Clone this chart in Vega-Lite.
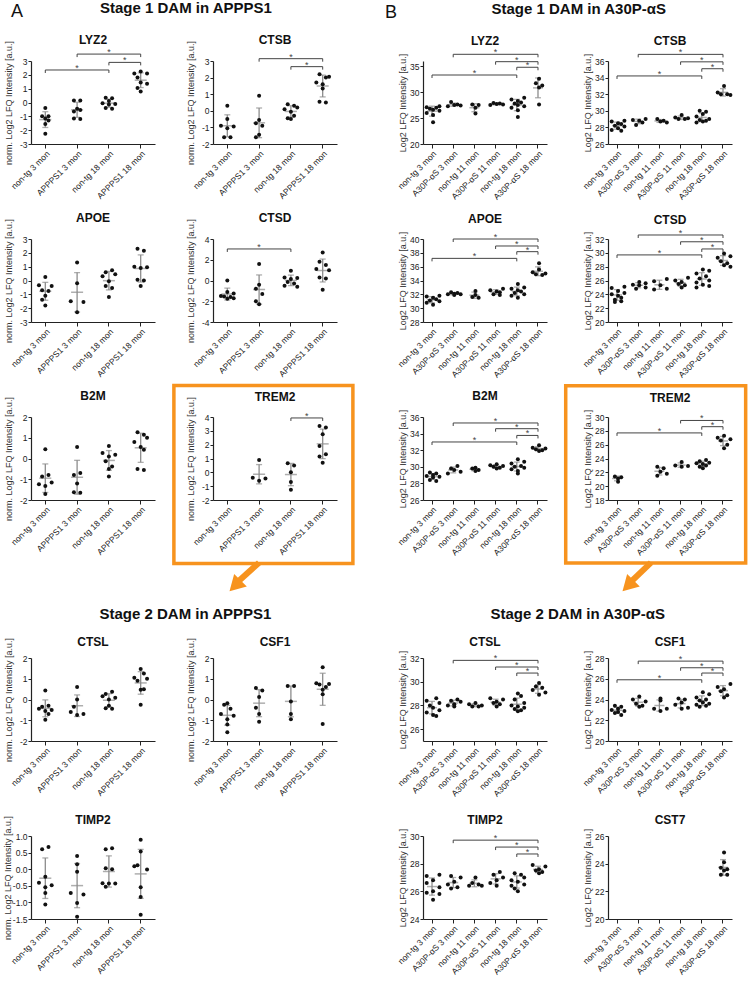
{
"$schema":"https://vega.github.io/schema/vega-lite/v6.json",
"background":"white",
"padding":{"left":3,"top":0,"right":0,"bottom":0},
"spacing":30,
"hconcat":[
{"title":{"text":"A","anchor":"start","offset":-20,"fontSize":18,"fontWeight":"normal","dx":7},
 "spacing":15,
 "vconcat":[
 {"title":{"text":"Stage 1 DAM in APPPS1","anchor":"middle","fontSize":15,"offset":18.5,"dx":6.6},
  "columns":2,"bounds":"flush","spacing":{"row":95,"column":58},
  "concat":[
  {"width":124,"height":83,"title":{"text":"LYZ2","offset":-7},
   "encoding":{"y":{"field":"v","type":"quantitative","scale":{"domain":[-3,3],"nice":false,"zero":false},"axis":{"values":[-3,-2,-1,0,1,2,3],"title":"norm. Log2 LFQ Intensity [a.u.]","titlePadding":6.4}}},
   "layer":[
    {"data":{"values":[
     {"g":"n3","s":3,"v":-0.4},{"g":"n3","s":2,"v":-1.0},{"g":"n3","s":4,"v":-1.0},{"g":"n3","s":3,"v":-1.15},{"g":"n3","s":4,"v":-1.3},{"g":"n3","s":3,"v":-1.55},{"g":"n3","s":3,"v":-2.25},
     {"g":"t3","s":2,"v":0.15},{"g":"t3","s":4,"v":0.15},{"g":"t3","s":3,"v":-0.45},{"g":"t3","s":4,"v":-0.55},{"g":"t3","s":2,"v":-0.65},{"g":"t3","s":2,"v":-1.15},{"g":"t3","s":4,"v":-1.2},
     {"g":"n18","s":2,"v":0.35},{"g":"n18","s":4,"v":0.3},{"g":"n18","s":3,"v":0.1},{"g":"n18","s":1,"v":-0.05},{"g":"n18","s":5,"v":-0.1},{"g":"n18","s":3,"v":-0.15},{"g":"n18","s":2,"v":-0.4},{"g":"n18","s":4,"v":-0.45},
     {"g":"t18","s":3,"v":2.25},{"g":"t18","s":1,"v":2.1},{"g":"t18","s":5,"v":2.1},{"g":"t18","s":2,"v":1.8},{"g":"t18","s":3,"v":1.45},{"g":"t18","s":5,"v":1.35},{"g":"t18","s":2,"v":1.05},{"g":"t18","s":3,"v":0.8}]},
     "encoding":{"x":{"field":"g","type":"nominal","scale":{"domain":["n3","t3","n18","t18"],"paddingInner":0.5,"paddingOuter":0.2,"round":false},"axis":{"title":null,"labelExpr":"datum.value=='n3'?'non-tg 3 mon':datum.value=='t3'?'APPPS1 3 mon':datum.value=='n18'?'non-tg 18 mon':'APPPS1 18 mon'"}}},
     "layer":[
      {"mark":{"type":"errorbar","extent":"stdev","ticks":{"size":6},"color":"#8c8c8c","thickness":1.3}},
      {"transform":[{"aggregate":[{"op":"mean","field":"v","as":"v"}],"groupby":["g"]}],"mark":{"type":"tick","color":"#8c8c8c","size":12,"thickness":1.5}},
      {"mark":{"type":"circle","size":16,"color":"#111","opacity":1},"encoding":{"xOffset":{"field":"s","type":"ordinal","scale":{"domain":[1,2,3,4,5]}}}}]},
    {"data":{"values":[{"b":1,"k":0,"v":2.35},{"b":1,"k":2,"v":2.35},{"b":2,"k":2,"v":2.9},{"b":2,"k":3,"v":2.9},{"b":3,"k":1,"v":3.5},{"b":3,"k":3,"v":3.5}]},
     "encoding":{"x":{"field":"k","type":"quantitative","scale":{"domain":[-0.45,3.45],"nice":false,"zero":false},"axis":null}},
     "layer":[
      {"mark":{"type":"line","color":"#444","strokeWidth":1,"clip":false},"encoding":{"detail":{"field":"b"}}},
      {"mark":{"type":"rule","color":"#444","strokeWidth":1,"y2Offset":3,"clip":false},"encoding":{"y2":{"field":"v"}}},
      {"transform":[{"aggregate":[{"op":"mean","field":"k","as":"k"},{"op":"max","field":"v","as":"v"}],"groupby":["b"]}],"mark":{"type":"text","text":"*","fontSize":9,"dy":1,"baseline":"alphabetic","color":"#444","clip":false}}]}],
   "resolve":{"scale":{"x":"independent"}}},
  {"width":124,"height":83,"title":{"text":"CTSB","offset":-7},
   "encoding":{"y":{"field":"v","type":"quantitative","scale":{"domain":[-2,3],"nice":false,"zero":false},"axis":{"values":[-2,-1,0,1,2,3],"title":"norm. Log2 LFQ Intensity [a.u.]","titlePadding":6.4}}},
   "layer":[
    {"data":{"values":[
     {"g":"n3","s":3,"v":0.3},{"g":"n3","s":3,"v":-0.5},{"g":"n3","s":1,"v":-0.9},{"g":"n3","s":5,"v":-0.95},{"g":"n3","s":3,"v":-1.05},{"g":"n3","s":2,"v":-1.6},{"g":"n3","s":4,"v":-1.6},
     {"g":"t3","s":3,"v":0.9},{"g":"t3","s":3,"v":-0.55},{"g":"t3","s":2,"v":-0.75},{"g":"t3","s":4,"v":-0.9},{"g":"t3","s":3,"v":-1.45},{"g":"t3","s":2,"v":-1.6},
     {"g":"n18","s":2,"v":0.4},{"g":"n18","s":4,"v":0.3},{"g":"n18","s":5,"v":0.2},{"g":"n18","s":1,"v":0.1},{"g":"n18","s":3,"v":-0.05},{"g":"n18","s":4,"v":-0.3},{"g":"n18","s":2,"v":-0.45},{"g":"n18","s":3,"v":-0.5},
     {"g":"t18","s":2,"v":2.2},{"g":"t18","s":5,"v":2.05},{"g":"t18","s":4,"v":2.0},{"g":"t18","s":1,"v":1.7},{"g":"t18","s":3,"v":1.6},{"g":"t18","s":3,"v":1.35},{"g":"t18","s":2,"v":0.55},{"g":"t18","s":4,"v":0.5}]},
     "encoding":{"x":{"field":"g","type":"nominal","scale":{"domain":["n3","t3","n18","t18"],"paddingInner":0.5,"paddingOuter":0.2,"round":false},"axis":{"title":null,"labelExpr":"datum.value=='n3'?'non-tg 3 mon':datum.value=='t3'?'APPPS1 3 mon':datum.value=='n18'?'non-tg 18 mon':'APPPS1 18 mon'"}}},
     "layer":[
      {"mark":{"type":"errorbar","extent":"stdev","ticks":{"size":6},"color":"#8c8c8c","thickness":1.3}},
      {"transform":[{"aggregate":[{"op":"mean","field":"v","as":"v"}],"groupby":["g"]}],"mark":{"type":"tick","color":"#8c8c8c","size":12,"thickness":1.5}},
      {"mark":{"type":"circle","size":16,"color":"#111","opacity":1},"encoding":{"xOffset":{"field":"s","type":"ordinal","scale":{"domain":[1,2,3,4,5]}}}}]},
    {"data":{"values":[{"b":1,"k":2,"v":2.66},{"b":1,"k":3,"v":2.66},{"b":2,"k":1,"v":3.14},{"b":2,"k":3,"v":3.14}]},
     "encoding":{"x":{"field":"k","type":"quantitative","scale":{"domain":[-0.45,3.45],"nice":false,"zero":false},"axis":null}},
     "layer":[
      {"mark":{"type":"line","color":"#444","strokeWidth":1,"clip":false},"encoding":{"detail":{"field":"b"}}},
      {"mark":{"type":"rule","color":"#444","strokeWidth":1,"y2Offset":3,"clip":false},"encoding":{"y2":{"field":"v"}}},
      {"transform":[{"aggregate":[{"op":"mean","field":"k","as":"k"},{"op":"max","field":"v","as":"v"}],"groupby":["b"]}],"mark":{"type":"text","text":"*","fontSize":9,"dy":1,"baseline":"alphabetic","color":"#444","clip":false}}]}],
   "resolve":{"scale":{"x":"independent"}}},
  {"width":124,"height":83,"title":{"text":"APOE","offset":-7},
   "encoding":{"y":{"field":"v","type":"quantitative","scale":{"domain":[-3,3],"nice":false,"zero":false},"axis":{"values":[-3,-2,-1,0,1,2,3],"title":"norm. Log2 LFQ Intensity [a.u.]","titlePadding":6.4}}},
   "data":{"values":[
     {"g":"n3","s":3,"v":0.25},{"g":"n3","s":1,"v":-0.35},{"g":"n3","s":5,"v":-0.4},{"g":"n3","s":2,"v":-0.7},{"g":"n3","s":4,"v":-0.75},{"g":"n3","s":3,"v":-1.1},{"g":"n3","s":2,"v":-1.4},{"g":"n3","s":3,"v":-1.8},
     {"g":"t3","s":3,"v":1.3},{"g":"t3","s":3,"v":-0.2},{"g":"t3","s":1,"v":-1.5},{"g":"t3","s":5,"v":-1.55},{"g":"t3","s":3,"v":-2.3},
     {"g":"n18","s":4,"v":0.75},{"g":"n18","s":2,"v":0.6},{"g":"n18","s":5,"v":0.45},{"g":"n18","s":1,"v":0.3},{"g":"n18","s":3,"v":-0.05},{"g":"n18","s":2,"v":-0.4},{"g":"n18","s":4,"v":-0.55},{"g":"n18","s":3,"v":-1.2},
     {"g":"t18","s":2,"v":2.3},{"g":"t18","s":4,"v":2.15},{"g":"t18","s":1,"v":1.0},{"g":"t18","s":5,"v":0.95},{"g":"t18","s":3,"v":0.9},{"g":"t18","s":2,"v":0.05},{"g":"t18","s":4,"v":0.0},{"g":"t18","s":3,"v":-0.4}]},
   "layer":[
    {"encoding":{"x":{"field":"g","type":"nominal","scale":{"domain":["n3","t3","n18","t18"],"paddingInner":0.5,"paddingOuter":0.2,"round":false},"axis":{"title":null,"labelExpr":"datum.value=='n3'?'non-tg 3 mon':datum.value=='t3'?'APPPS1 3 mon':datum.value=='n18'?'non-tg 18 mon':'APPPS1 18 mon'"}}},
     "layer":[
      {"mark":{"type":"errorbar","extent":"stdev","ticks":{"size":6},"color":"#8c8c8c","thickness":1.3}},
      {"transform":[{"aggregate":[{"op":"mean","field":"v","as":"v"}],"groupby":["g"]}],"mark":{"type":"tick","color":"#8c8c8c","size":12,"thickness":1.5}},
      {"mark":{"type":"circle","size":16,"color":"#111","opacity":1},"encoding":{"xOffset":{"field":"s","type":"ordinal","scale":{"domain":[1,2,3,4,5]}}}}]}]},
  {"width":124,"height":83,"title":{"text":"CTSD","offset":-7},
   "encoding":{"y":{"field":"v","type":"quantitative","scale":{"domain":[-4,4],"nice":false,"zero":false},"axis":{"values":[-4,-2,0,2,4],"title":"norm. Log2 LFQ Intensity [a.u.]","titlePadding":6.4}}},
   "layer":[
    {"data":{"values":[
     {"g":"n3","s":3,"v":0.0},{"g":"n3","s":3,"v":-1.1},{"g":"n3","s":5,"v":-1.25},{"g":"n3","s":1,"v":-1.5},{"g":"n3","s":2,"v":-1.55},{"g":"n3","s":4,"v":-1.6},{"g":"n3","s":3,"v":-1.75},{"g":"n3","s":5,"v":-1.7},
     {"g":"t3","s":3,"v":1.6},{"g":"t3","s":3,"v":-0.4},{"g":"t3","s":2,"v":-0.8},{"g":"t3","s":4,"v":-1.3},{"g":"t3","s":2,"v":-2.0},{"g":"t3","s":3,"v":-2.3},
     {"g":"n18","s":3,"v":0.95},{"g":"n18","s":1,"v":0.3},{"g":"n18","s":5,"v":0.25},{"g":"n18","s":3,"v":0.15},{"g":"n18","s":2,"v":-0.15},{"g":"n18","s":4,"v":-0.3},{"g":"n18","s":1,"v":-0.5},{"g":"n18","s":5,"v":-0.6},
     {"g":"t18","s":3,"v":2.7},{"g":"t18","s":2,"v":1.8},{"g":"t18","s":4,"v":1.5},{"g":"t18","s":1,"v":1.1},{"g":"t18","s":5,"v":1.0},{"g":"t18","s":2,"v":0.3},{"g":"t18","s":4,"v":0.2},{"g":"t18","s":3,"v":-0.9}]},
     "encoding":{"x":{"field":"g","type":"nominal","scale":{"domain":["n3","t3","n18","t18"],"paddingInner":0.5,"paddingOuter":0.2,"round":false},"axis":{"title":null,"labelExpr":"datum.value=='n3'?'non-tg 3 mon':datum.value=='t3'?'APPPS1 3 mon':datum.value=='n18'?'non-tg 18 mon':'APPPS1 18 mon'"}}},
     "layer":[
      {"mark":{"type":"errorbar","extent":"stdev","ticks":{"size":6},"color":"#8c8c8c","thickness":1.3}},
      {"transform":[{"aggregate":[{"op":"mean","field":"v","as":"v"}],"groupby":["g"]}],"mark":{"type":"tick","color":"#8c8c8c","size":12,"thickness":1.5}},
      {"mark":{"type":"circle","size":16,"color":"#111","opacity":1},"encoding":{"xOffset":{"field":"s","type":"ordinal","scale":{"domain":[1,2,3,4,5]}}}}]},
    {"data":{"values":[{"b":1,"k":0,"v":3.04},{"b":1,"k":2,"v":3.04}]},
     "encoding":{"x":{"field":"k","type":"quantitative","scale":{"domain":[-0.45,3.45],"nice":false,"zero":false},"axis":null}},
     "layer":[
      {"mark":{"type":"line","color":"#444","strokeWidth":1,"clip":false},"encoding":{"detail":{"field":"b"}}},
      {"mark":{"type":"rule","color":"#444","strokeWidth":1,"y2Offset":3,"clip":false},"encoding":{"y2":{"field":"v"}}},
      {"transform":[{"aggregate":[{"op":"mean","field":"k","as":"k"},{"op":"max","field":"v","as":"v"}],"groupby":["b"]}],"mark":{"type":"text","text":"*","fontSize":9,"dy":1,"baseline":"alphabetic","color":"#444","clip":false}}]}],
   "resolve":{"scale":{"x":"independent"}}},
  {"width":124,"height":83,"title":{"text":"B2M","offset":-7},
   "encoding":{"y":{"field":"v","type":"quantitative","scale":{"domain":[-2,2],"nice":false,"zero":false},"axis":{"values":[-2,-1,0,1,2],"title":"norm. Log2 LFQ Intensity [a.u.]","titlePadding":6.4}}},
   "data":{"values":[
     {"g":"n3","s":3,"v":0.45},{"g":"n3","s":4,"v":-0.79},{"g":"n3","s":2,"v":-0.87},{"g":"n3","s":5,"v":-1.16},{"g":"n3","s":1,"v":-1.24},{"g":"n3","s":3,"v":-1.32},{"g":"n3","s":3,"v":-1.71},
     {"g":"t3","s":3,"v":0.55},{"g":"t3","s":4,"v":-0.7},{"g":"t3","s":2,"v":-0.8},{"g":"t3","s":3,"v":-1.2},{"g":"t3","s":2,"v":-1.63},{"g":"t3","s":4,"v":-1.65},
     {"g":"n18","s":3,"v":0.6},{"g":"n18","s":1,"v":0.26},{"g":"n18","s":5,"v":0.18},{"g":"n18","s":3,"v":0.1},{"g":"n18","s":2,"v":-0.13},{"g":"n18","s":4,"v":-0.38},{"g":"n18","s":3,"v":-0.5},{"g":"n18","s":3,"v":-0.87},
     {"g":"t18","s":2,"v":1.26},{"g":"t18","s":4,"v":1.15},{"g":"t18","s":5,"v":1.0},{"g":"t18","s":1,"v":0.8},{"g":"t18","s":3,"v":0.55},{"g":"t18","s":4,"v":0.42},{"g":"t18","s":2,"v":-0.5},{"g":"t18","s":4,"v":-0.55}]},
   "layer":[
    {"encoding":{"x":{"field":"g","type":"nominal","scale":{"domain":["n3","t3","n18","t18"],"paddingInner":0.5,"paddingOuter":0.2,"round":false},"axis":{"title":null,"labelExpr":"datum.value=='n3'?'non-tg 3 mon':datum.value=='t3'?'APPPS1 3 mon':datum.value=='n18'?'non-tg 18 mon':'APPPS1 18 mon'"}}},
     "layer":[
      {"mark":{"type":"errorbar","extent":"stdev","ticks":{"size":6},"color":"#8c8c8c","thickness":1.3}},
      {"transform":[{"aggregate":[{"op":"mean","field":"v","as":"v"}],"groupby":["g"]}],"mark":{"type":"tick","color":"#8c8c8c","size":12,"thickness":1.5}},
      {"mark":{"type":"circle","size":16,"color":"#111","opacity":1},"encoding":{"xOffset":{"field":"s","type":"ordinal","scale":{"domain":[1,2,3,4,5]}}}}]}]},
  {"width":124,"height":83,"title":{"text":"TREM2","offset":-20.6},
   "encoding":{"y":{"field":"v","type":"quantitative","scale":{"domain":[-2,4],"nice":false,"zero":false},"axis":{"values":[-2,-1,0,1,2,3,4],"title":"norm. Log2 LFQ Intensity [a.u.]","titlePadding":6.4}}},
   "layer":[
    {"data":{"values":[
     {"g":"t3","s":3,"v":0.9},{"g":"t3","s":1,"v":-0.4},{"g":"t3","s":5,"v":-0.45},{"g":"t3","s":3,"v":-0.6},
     {"g":"n18","s":2,"v":0.65},{"g":"n18","s":4,"v":0.5},{"g":"n18","s":3,"v":0.0},{"g":"n18","s":3,"v":-0.7},{"g":"n18","s":3,"v":-1.25},
     {"g":"t18","s":2,"v":3.35},{"g":"t18","s":4,"v":3.25},{"g":"t18","s":3,"v":2.75},{"g":"t18","s":2,"v":1.9},{"g":"t18","s":4,"v":1.3},{"g":"t18","s":2,"v":1.15},{"g":"t18","s":3,"v":0.7}]},
     "encoding":{"x":{"field":"g","type":"nominal","scale":{"domain":["n3","t3","n18","t18"],"paddingInner":0.5,"paddingOuter":0.2,"round":false},"axis":{"title":null,"labelExpr":"datum.value=='n3'?'non-tg 3 mon':datum.value=='t3'?'APPPS1 3 mon':datum.value=='n18'?'non-tg 18 mon':'APPPS1 18 mon'"}}},
     "layer":[
      {"mark":{"type":"errorbar","extent":"stdev","ticks":{"size":6},"color":"#8c8c8c","thickness":1.3}},
      {"transform":[{"aggregate":[{"op":"mean","field":"v","as":"v"}],"groupby":["g"]}],"mark":{"type":"tick","color":"#8c8c8c","size":12,"thickness":1.5}},
      {"mark":{"type":"circle","size":16,"color":"#111","opacity":1},"encoding":{"xOffset":{"field":"s","type":"ordinal","scale":{"domain":[1,2,3,4,5]}}}}]},
    {"data":{"values":[{"b":1,"k":2,"v":3.93},{"b":1,"k":3,"v":3.93}]},
     "encoding":{"x":{"field":"k","type":"quantitative","scale":{"domain":[-0.45,3.45],"nice":false,"zero":false},"axis":null}},
     "layer":[
      {"mark":{"type":"line","color":"#444","strokeWidth":1,"clip":false},"encoding":{"detail":{"field":"b"}}},
      {"mark":{"type":"rule","color":"#444","strokeWidth":1,"y2Offset":3,"clip":false},"encoding":{"y2":{"field":"v"}}},
      {"transform":[{"aggregate":[{"op":"mean","field":"k","as":"k"},{"op":"max","field":"v","as":"v"}],"groupby":["b"]}],"mark":{"type":"text","text":"*","fontSize":9,"dy":1,"baseline":"alphabetic","color":"#444","clip":false}},
      {"data":{"values":[{"xa":-1.68,"xb":3.95,"ya":6.27,"yb":-6.59}]},"mark":{"type":"rect","filled":false,"stroke":"#F7931E","strokeWidth":3.5,"clip":false},
       "encoding":{"x":{"field":"xa","type":"quantitative","scale":{"domain":[-0.45,3.45],"nice":false,"zero":false},"axis":null},"x2":{"field":"xb"},"y":{"field":"ya","type":"quantitative","scale":{"domain":[-2,4],"nice":false,"zero":false},"title":"norm. Log2 LFQ Intensity [a.u.]"},"y2":{"field":"yb"}}},
      {"data":{"values":[{"xa":0.997,"xb":0.368,"ya":-6.53,"yb":-7.84}]},"mark":{"type":"rule","stroke":"#F7931E","strokeWidth":6,"clip":false},
       "encoding":{"x":{"field":"xa","type":"quantitative","scale":{"domain":[-0.45,3.45],"nice":false,"zero":false},"axis":null},"x2":{"field":"xb"},"y":{"field":"ya","type":"quantitative","scale":{"domain":[-2,4],"nice":false,"zero":false},"title":"norm. Log2 LFQ Intensity [a.u.]"},"y2":{"field":"yb"}}},
      {"data":{"values":[{"xa":0.242,"ya":-8.2}]},"mark":{"type":"point","shape":"triangle-down","angle":45,"filled":true,"color":"#F7931E","opacity":1,"size":320,"clip":false},
       "encoding":{"x":{"field":"xa","type":"quantitative","scale":{"domain":[-0.45,3.45],"nice":false,"zero":false},"axis":null},"y":{"field":"ya","type":"quantitative","scale":{"domain":[-2,4],"nice":false,"zero":false},"title":"norm. Log2 LFQ Intensity [a.u.]"}}}]}],
   "resolve":{"scale":{"x":"independent"}}}
  ]},
 {"title":{"text":"Stage 2 DAM in APPPS1","anchor":"middle","fontSize":15,"offset":14,"dx":15},
  "columns":2,"bounds":"flush","spacing":{"row":95,"column":58},
  "concat":[
  {"width":124,"height":83,"title":{"text":"CTSL","offset":-12},
   "encoding":{"y":{"field":"v","type":"quantitative","scale":{"domain":[-2,2],"nice":false,"zero":false},"axis":{"values":[-2,-1,0,1,2],"title":"norm. Log2 LFQ Intensity [a.u.]","titlePadding":6.4}}},
   "data":{"values":[
     {"g":"n3","s":3,"v":0.43},{"g":"n3","s":4,"v":-0.3},{"g":"n3","s":2,"v":-0.35},{"g":"n3","s":1,"v":-0.45},{"g":"n3","s":5,"v":-0.5},{"g":"n3","s":3,"v":-0.55},{"g":"n3","s":4,"v":-0.7},{"g":"n3","s":3,"v":-0.98},
     {"g":"t3","s":3,"v":0.6},{"g":"t3","s":3,"v":0.0},{"g":"t3","s":2,"v":-0.35},{"g":"t3","s":1,"v":-0.6},{"g":"t3","s":5,"v":-0.7},{"g":"t3","s":3,"v":-0.75},
     {"g":"n18","s":4,"v":0.37},{"g":"n18","s":2,"v":0.27},{"g":"n18","s":1,"v":0.16},{"g":"n18","s":5,"v":0.08},{"g":"n18","s":3,"v":0.0},{"g":"n18","s":3,"v":-0.3},{"g":"n18","s":2,"v":-0.42},{"g":"n18","s":4,"v":-0.45},
     {"g":"t18","s":3,"v":1.47},{"g":"t18","s":4,"v":1.25},{"g":"t18","s":1,"v":1.05},{"g":"t18","s":5,"v":1.0},{"g":"t18","s":2,"v":0.9},{"g":"t18","s":4,"v":0.5},{"g":"t18","s":3,"v":0.47},{"g":"t18","s":3,"v":-0.25}]},
   "layer":[
    {"encoding":{"x":{"field":"g","type":"nominal","scale":{"domain":["n3","t3","n18","t18"],"paddingInner":0.5,"paddingOuter":0.2,"round":false},"axis":{"title":null,"labelExpr":"datum.value=='n3'?'non-tg 3 mon':datum.value=='t3'?'APPPS1 3 mon':datum.value=='n18'?'non-tg 18 mon':'APPPS1 18 mon'"}}},
     "layer":[
      {"mark":{"type":"errorbar","extent":"stdev","ticks":{"size":6},"color":"#8c8c8c","thickness":1.3}},
      {"transform":[{"aggregate":[{"op":"mean","field":"v","as":"v"}],"groupby":["g"]}],"mark":{"type":"tick","color":"#8c8c8c","size":12,"thickness":1.5}},
      {"mark":{"type":"circle","size":16,"color":"#111","opacity":1},"encoding":{"xOffset":{"field":"s","type":"ordinal","scale":{"domain":[1,2,3,4,5]}}}}]}]},
  {"width":124,"height":83,"title":{"text":"CSF1","offset":-12},
   "encoding":{"y":{"field":"v","type":"quantitative","scale":{"domain":[-2,2],"nice":false,"zero":false},"axis":{"values":[-2,-1,0,1,2],"title":"norm. Log2 LFQ Intensity [a.u.]","titlePadding":6.4}}},
   "data":{"values":[
     {"g":"n3","s":3,"v":-0.18},{"g":"n3","s":2,"v":-0.25},{"g":"n3","s":4,"v":-0.45},{"g":"n3","s":1,"v":-0.7},{"g":"n3","s":5,"v":-0.78},{"g":"n3","s":3,"v":-0.95},{"g":"n3","s":3,"v":-1.2},{"g":"n3","s":3,"v":-1.58},
     {"g":"t3","s":2,"v":0.56},{"g":"t3","s":4,"v":0.43},{"g":"t3","s":3,"v":0.12},{"g":"t3","s":2,"v":-0.4},{"g":"t3","s":3,"v":-0.7},{"g":"t3","s":3,"v":-1.07},
     {"g":"n18","s":2,"v":0.65},{"g":"n18","s":4,"v":0.65},{"g":"n18","s":3,"v":-0.1},{"g":"n18","s":3,"v":-0.7},{"g":"n18","s":3,"v":-0.95},
     {"g":"t18","s":3,"v":1.55},{"g":"t18","s":1,"v":0.78},{"g":"t18","s":5,"v":0.75},{"g":"t18","s":2,"v":0.72},{"g":"t18","s":4,"v":0.6},{"g":"t18","s":3,"v":0.47},{"g":"t18","s":3,"v":0.25},{"g":"t18","s":3,"v":-1.18}]},
   "layer":[
    {"encoding":{"x":{"field":"g","type":"nominal","scale":{"domain":["n3","t3","n18","t18"],"paddingInner":0.5,"paddingOuter":0.2,"round":false},"axis":{"title":null,"labelExpr":"datum.value=='n3'?'non-tg 3 mon':datum.value=='t3'?'APPPS1 3 mon':datum.value=='n18'?'non-tg 18 mon':'APPPS1 18 mon'"}}},
     "layer":[
      {"mark":{"type":"errorbar","extent":"stdev","ticks":{"size":6},"color":"#8c8c8c","thickness":1.3}},
      {"transform":[{"aggregate":[{"op":"mean","field":"v","as":"v"}],"groupby":["g"]}],"mark":{"type":"tick","color":"#8c8c8c","size":12,"thickness":1.5}},
      {"mark":{"type":"circle","size":16,"color":"#111","opacity":1},"encoding":{"xOffset":{"field":"s","type":"ordinal","scale":{"domain":[1,2,3,4,5]}}}}]}]},
  {"width":124,"height":83,"title":{"text":"TIMP2","offset":-12},
   "encoding":{"y":{"field":"v","type":"quantitative","scale":{"domain":[-1.5,1.0],"nice":false,"zero":false},"axis":{"values":[-1.5,-1.0,-0.5,0,0.5,1.0],"format":".1f","title":"norm. Log2 LFQ Intensity [a.u.]","titlePadding":-0.6}}},
   "data":{"values":[
     {"g":"n3","s":4,"v":0.67},{"g":"n3","s":2,"v":0.6},{"g":"n3","s":3,"v":-0.23},{"g":"n3","s":1,"v":-0.41},{"g":"n3","s":5,"v":-0.48},{"g":"n3","s":3,"v":-0.54},{"g":"n3","s":3,"v":-0.72},{"g":"n3","s":3,"v":-1.06},
     {"g":"t3","s":3,"v":0.4},{"g":"t3","s":3,"v":0.15},{"g":"t3","s":3,"v":-0.08},{"g":"t3","s":1,"v":-0.72},{"g":"t3","s":5,"v":-0.76},{"g":"t3","s":3,"v":-1.02},{"g":"t3","s":3,"v":-1.43},
     {"g":"n18","s":4,"v":0.63},{"g":"n18","s":2,"v":0.6},{"g":"n18","s":2,"v":0.03},{"g":"n18","s":4,"v":0.0},{"g":"n18","s":1,"v":-0.42},{"g":"n18","s":5,"v":-0.43},{"g":"n18","s":3,"v":-0.43},{"g":"n18","s":2,"v":-0.53},
     {"g":"t18","s":3,"v":0.89},{"g":"t18","s":3,"v":0.53},{"g":"t18","s":2,"v":0.12},{"g":"t18","s":1,"v":0.09},{"g":"t18","s":5,"v":-0.01},{"g":"t18","s":3,"v":-0.54},{"g":"t18","s":3,"v":-0.84},{"g":"t18","s":3,"v":-1.37}]},
   "layer":[
    {"encoding":{"x":{"field":"g","type":"nominal","scale":{"domain":["n3","t3","n18","t18"],"paddingInner":0.5,"paddingOuter":0.2,"round":false},"axis":{"title":null,"labelExpr":"datum.value=='n3'?'non-tg 3 mon':datum.value=='t3'?'APPPS1 3 mon':datum.value=='n18'?'non-tg 18 mon':'APPPS1 18 mon'"}}},
     "layer":[
      {"mark":{"type":"errorbar","extent":"stdev","ticks":{"size":6},"color":"#8c8c8c","thickness":1.3}},
      {"transform":[{"aggregate":[{"op":"mean","field":"v","as":"v"}],"groupby":["g"]}],"mark":{"type":"tick","color":"#8c8c8c","size":12,"thickness":1.5}},
      {"mark":{"type":"circle","size":16,"color":"#111","opacity":1},"encoding":{"xOffset":{"field":"s","type":"ordinal","scale":{"domain":[1,2,3,4,5]}}}}]}]}
  ]}
 ]},
{"title":{"text":"B","anchor":"start","offset":-20,"fontSize":18,"fontWeight":"normal","dx":-11},
 "spacing":15,
 "vconcat":[
 {"title":{"text":"Stage 1 DAM in A30P-αS","anchor":"middle","fontSize":15,"offset":18.5,"dx":7},
  "columns":2,"bounds":"flush","spacing":{"row":95,"column":61},
  "concat":[
  {"width":124,"height":83,"title":{"text":"LYZ2","offset":0},
   "encoding":{"y":{"field":"v","type":"quantitative","scale":{"domain":[20,36],"nice":false,"zero":false},"axis":{"values":[20,25,30,35],"title":"Log2 LFQ Intensity [a.u.]","titlePadding":2.5}}},
   "layer":[
    {"data":{"values":[
     {"g":"n3","s":5,"v":27.3},{"g":"n3","s":1,"v":27.1},{"g":"n3","s":4,"v":27.0},{"g":"n3","s":2,"v":26.8},{"g":"n3","s":3,"v":26.6},{"g":"n3","s":5,"v":26.4},{"g":"n3","s":1,"v":26.0},{"g":"n3","s":3,"v":25.6},{"g":"n3","s":3,"v":24.2},
     {"g":"a3","s":2,"v":28.1},{"g":"a3","s":4,"v":27.6},{"g":"a3","s":3,"v":27.5},{"g":"a3","s":5,"v":27.4},{"g":"a3","s":1,"v":27.3},
     {"g":"n11","s":2,"v":27.6},{"g":"n11","s":4,"v":27.5},{"g":"n11","s":3,"v":27.0},{"g":"n11","s":3,"v":25.9},
     {"g":"a11","s":2,"v":27.9},{"g":"a11","s":4,"v":27.8},{"g":"a11","s":3,"v":27.7},{"g":"a11","s":5,"v":27.6},{"g":"a11","s":1,"v":27.5},
     {"g":"n18","s":5,"v":28.9},{"g":"n18","s":1,"v":28.6},{"g":"n18","s":3,"v":28.3},{"g":"n18","s":4,"v":28.0},{"g":"n18","s":2,"v":27.8},{"g":"n18","s":3,"v":27.5},{"g":"n18","s":5,"v":27.3},{"g":"n18","s":1,"v":27.0},{"g":"n18","s":3,"v":26.5},{"g":"n18","s":3,"v":25.2},
     {"g":"a18","s":3,"v":32.6},{"g":"a18","s":2,"v":31.7},{"g":"a18","s":4,"v":31.3},{"g":"a18","s":3,"v":30.9},{"g":"a18","s":3,"v":27.6}]},
     "encoding":{"x":{"field":"g","type":"nominal","scale":{"domain":["n3","a3","n11","a11","n18","a18"],"paddingInner":0.35,"paddingOuter":0.1,"round":false},"axis":{"title":null,"labelExpr":"datum.value=='n3'?'non-tg 3 mon':datum.value=='a3'?'A30P-αS 3 mon':datum.value=='n11'?'non-tg 11 mon':datum.value=='a11'?'A30P-αS 11 mon':datum.value=='n18'?'non-tg 18 mon':'A30P-αS 18 mon'"}}},
     "layer":[
      {"mark":{"type":"errorbar","extent":"stdev","ticks":{"size":6},"color":"#8c8c8c","thickness":1.3}},
      {"transform":[{"aggregate":[{"op":"mean","field":"v","as":"v"}],"groupby":["g"]}],"mark":{"type":"tick","color":"#8c8c8c","size":10,"thickness":1.5}},
      {"mark":{"type":"circle","size":16,"color":"#111","opacity":1},"encoding":{"xOffset":{"field":"s","type":"ordinal","scale":{"domain":[1,2,3,4,5]}}}}]},
    {"data":{"values":[{"b":1,"k":0,"v":33.3},{"b":1,"k":4,"v":33.3},{"b":2,"k":4,"v":34.79},{"b":2,"k":5,"v":34.79},{"b":3,"k":3,"v":35.87},{"b":3,"k":5,"v":35.87},{"b":4,"k":1,"v":37.29},{"b":4,"k":5,"v":37.29}]},
     "encoding":{"x":{"field":"k","type":"quantitative","scale":{"domain":[-0.425,5.425],"nice":false,"zero":false},"axis":null}},
     "layer":[
      {"mark":{"type":"line","color":"#444","strokeWidth":1,"clip":false},"encoding":{"detail":{"field":"b"}}},
      {"mark":{"type":"rule","color":"#444","strokeWidth":1,"y2Offset":3,"clip":false},"encoding":{"y2":{"field":"v"}}},
      {"transform":[{"aggregate":[{"op":"mean","field":"k","as":"k"},{"op":"max","field":"v","as":"v"}],"groupby":["b"]}],"mark":{"type":"text","text":"*","fontSize":9,"dy":1,"baseline":"alphabetic","color":"#444","clip":false}}]}],
   "resolve":{"scale":{"x":"independent"}}},
  {"width":124,"height":83,"title":{"text":"CTSB","offset":0},
   "encoding":{"y":{"field":"v","type":"quantitative","scale":{"domain":[26,36],"nice":false,"zero":false},"axis":{"values":[26,28,30,32,34,36],"title":"Log2 LFQ Intensity [a.u.]","titlePadding":2.5}}},
   "layer":[
    {"data":{"values":[
     {"g":"n3","s":5,"v":28.8},{"g":"n3","s":1,"v":28.7},{"g":"n3","s":3,"v":28.5},{"g":"n3","s":4,"v":28.4},{"g":"n3","s":2,"v":28.2},{"g":"n3","s":5,"v":28.1},{"g":"n3","s":3,"v":27.9},{"g":"n3","s":1,"v":27.7},{"g":"n3","s":4,"v":27.6},
     {"g":"a3","s":5,"v":29.0},{"g":"a3","s":1,"v":28.9},{"g":"a3","s":3,"v":28.8},{"g":"a3","s":4,"v":28.6},{"g":"a3","s":2,"v":28.3},
     {"g":"n11","s":2,"v":29.0},{"g":"n11","s":4,"v":28.8},{"g":"n11","s":3,"v":28.7},{"g":"n11","s":5,"v":28.6},
     {"g":"a11","s":3,"v":29.5},{"g":"a11","s":1,"v":29.2},{"g":"a11","s":5,"v":29.1},{"g":"a11","s":2,"v":29.0},{"g":"a11","s":4,"v":29.0},
     {"g":"n18","s":2,"v":30.0},{"g":"n18","s":4,"v":29.9},{"g":"n18","s":3,"v":29.6},{"g":"n18","s":1,"v":29.3},{"g":"n18","s":5,"v":29.0},{"g":"n18","s":2,"v":28.9},{"g":"n18","s":4,"v":28.8},{"g":"n18","s":3,"v":28.7},{"g":"n18","s":1,"v":28.6},
     {"g":"a18","s":3,"v":33.0},{"g":"a18","s":1,"v":32.2},{"g":"a18","s":2,"v":32.0},{"g":"a18","s":4,"v":32.0},{"g":"a18","s":5,"v":31.9}]},
     "encoding":{"x":{"field":"g","type":"nominal","scale":{"domain":["n3","a3","n11","a11","n18","a18"],"paddingInner":0.35,"paddingOuter":0.1,"round":false},"axis":{"title":null,"labelExpr":"datum.value=='n3'?'non-tg 3 mon':datum.value=='a3'?'A30P-αS 3 mon':datum.value=='n11'?'non-tg 11 mon':datum.value=='a11'?'A30P-αS 11 mon':datum.value=='n18'?'non-tg 18 mon':'A30P-αS 18 mon'"}}},
     "layer":[
      {"mark":{"type":"errorbar","extent":"stdev","ticks":{"size":6},"color":"#8c8c8c","thickness":1.3}},
      {"transform":[{"aggregate":[{"op":"mean","field":"v","as":"v"}],"groupby":["g"]}],"mark":{"type":"tick","color":"#8c8c8c","size":10,"thickness":1.5}},
      {"mark":{"type":"circle","size":16,"color":"#111","opacity":1},"encoding":{"xOffset":{"field":"s","type":"ordinal","scale":{"domain":[1,2,3,4,5]}}}}]},
    {"data":{"values":[{"b":1,"k":0,"v":34.2},{"b":1,"k":4,"v":34.2},{"b":2,"k":4,"v":35.07},{"b":2,"k":5,"v":35.07},{"b":3,"k":3,"v":35.9},{"b":3,"k":5,"v":35.9},{"b":4,"k":1,"v":36.8},{"b":4,"k":5,"v":36.8}]},
     "encoding":{"x":{"field":"k","type":"quantitative","scale":{"domain":[-0.425,5.425],"nice":false,"zero":false},"axis":null}},
     "layer":[
      {"mark":{"type":"line","color":"#444","strokeWidth":1,"clip":false},"encoding":{"detail":{"field":"b"}}},
      {"mark":{"type":"rule","color":"#444","strokeWidth":1,"y2Offset":3,"clip":false},"encoding":{"y2":{"field":"v"}}},
      {"transform":[{"aggregate":[{"op":"mean","field":"k","as":"k"},{"op":"max","field":"v","as":"v"}],"groupby":["b"]}],"mark":{"type":"text","text":"*","fontSize":9,"dy":1,"baseline":"alphabetic","color":"#444","clip":false}}]}],
   "resolve":{"scale":{"x":"independent"}}},
  {"width":124,"height":83,"title":{"text":"APOE","offset":5.5},
   "encoding":{"y":{"field":"v","type":"quantitative","scale":{"domain":[28,40],"nice":false,"zero":false},"axis":{"values":[28,30,32,34,36,38,40],"title":"Log2 LFQ Intensity [a.u.]","titlePadding":2.5}}},
   "layer":[
    {"data":{"values":[
     {"g":"n3","s":5,"v":31.8},{"g":"n3","s":1,"v":31.7},{"g":"n3","s":3,"v":31.5},{"g":"n3","s":4,"v":31.3},{"g":"n3","s":2,"v":31.1},{"g":"n3","s":5,"v":31.0},{"g":"n3","s":1,"v":30.8},{"g":"n3","s":3,"v":30.5},
     {"g":"a3","s":2,"v":32.3},{"g":"a3","s":4,"v":32.2},{"g":"a3","s":3,"v":32.1},{"g":"a3","s":1,"v":32.0},{"g":"a3","s":5,"v":32.0},{"g":"a3","s":3,"v":31.9},
     {"g":"n11","s":3,"v":32.5},{"g":"n11","s":3,"v":31.9},{"g":"n11","s":2,"v":31.6},{"g":"n11","s":4,"v":31.5},
     {"g":"a11","s":5,"v":32.8},{"g":"a11","s":1,"v":32.6},{"g":"a11","s":3,"v":32.4},{"g":"a11","s":4,"v":32.3},{"g":"a11","s":2,"v":32.0},{"g":"a11","s":4,"v":31.9},
     {"g":"n18","s":3,"v":33.5},{"g":"n18","s":5,"v":33.0},{"g":"n18","s":1,"v":32.8},{"g":"n18","s":3,"v":32.6},{"g":"n18","s":4,"v":32.4},{"g":"n18","s":2,"v":32.2},{"g":"n18","s":5,"v":32.0},{"g":"n18","s":1,"v":31.8},{"g":"n18","s":3,"v":31.5},
     {"g":"a18","s":3,"v":36.5},{"g":"a18","s":3,"v":35.6},{"g":"a18","s":1,"v":35.2},{"g":"a18","s":5,"v":35.0},{"g":"a18","s":2,"v":34.9},{"g":"a18","s":4,"v":34.8}]},
     "encoding":{"x":{"field":"g","type":"nominal","scale":{"domain":["n3","a3","n11","a11","n18","a18"],"paddingInner":0.35,"paddingOuter":0.1,"round":false},"axis":{"title":null,"labelExpr":"datum.value=='n3'?'non-tg 3 mon':datum.value=='a3'?'A30P-αS 3 mon':datum.value=='n11'?'non-tg 11 mon':datum.value=='a11'?'A30P-αS 11 mon':datum.value=='n18'?'non-tg 18 mon':'A30P-αS 18 mon'"}}},
     "layer":[
      {"mark":{"type":"errorbar","extent":"stdev","ticks":{"size":6},"color":"#8c8c8c","thickness":1.3}},
      {"transform":[{"aggregate":[{"op":"mean","field":"v","as":"v"}],"groupby":["g"]}],"mark":{"type":"tick","color":"#8c8c8c","size":10,"thickness":1.5}},
      {"mark":{"type":"circle","size":16,"color":"#111","opacity":1},"encoding":{"xOffset":{"field":"s","type":"ordinal","scale":{"domain":[1,2,3,4,5]}}}}]},
    {"data":{"values":[{"b":1,"k":0,"v":37.2},{"b":1,"k":4,"v":37.2},{"b":2,"k":4,"v":38.17},{"b":2,"k":5,"v":38.17},{"b":3,"k":3,"v":38.99},{"b":3,"k":5,"v":38.99},{"b":4,"k":1,"v":40.0},{"b":4,"k":5,"v":40.0}]},
     "encoding":{"x":{"field":"k","type":"quantitative","scale":{"domain":[-0.425,5.425],"nice":false,"zero":false},"axis":null}},
     "layer":[
      {"mark":{"type":"line","color":"#444","strokeWidth":1,"clip":false},"encoding":{"detail":{"field":"b"}}},
      {"mark":{"type":"rule","color":"#444","strokeWidth":1,"y2Offset":3,"clip":false},"encoding":{"y2":{"field":"v"}}},
      {"transform":[{"aggregate":[{"op":"mean","field":"k","as":"k"},{"op":"max","field":"v","as":"v"}],"groupby":["b"]}],"mark":{"type":"text","text":"*","fontSize":9,"dy":1,"baseline":"alphabetic","color":"#444","clip":false}}]}],
   "resolve":{"scale":{"x":"independent"}}},
  {"width":124,"height":83,"title":{"text":"CTSD","offset":1.5},
   "encoding":{"y":{"field":"v","type":"quantitative","scale":{"domain":[20,32],"nice":false,"zero":false},"axis":{"values":[20,22,24,26,28,30,32],"title":"Log2 LFQ Intensity [a.u.]","titlePadding":2.5}}},
   "layer":[
    {"data":{"values":[
     {"g":"n3","s":5,"v":25.1},{"g":"n3","s":1,"v":24.9},{"g":"n3","s":3,"v":24.5},{"g":"n3","s":5,"v":24.2},{"g":"n3","s":1,"v":24.0},{"g":"n3","s":3,"v":23.8},{"g":"n3","s":4,"v":23.5},{"g":"n3","s":2,"v":23.2},{"g":"n3","s":4,"v":23.0},{"g":"n3","s":2,"v":22.9},
     {"g":"a3","s":3,"v":25.8},{"g":"a3","s":5,"v":25.6},{"g":"a3","s":1,"v":25.4},{"g":"a3","s":3,"v":25.3},{"g":"a3","s":5,"v":25.0},{"g":"a3","s":2,"v":24.8},
     {"g":"n11","s":5,"v":26.2},{"g":"n11","s":1,"v":25.9},{"g":"n11","s":3,"v":25.3},{"g":"n11","s":5,"v":24.8},{"g":"n11","s":1,"v":24.7},
     {"g":"a11","s":5,"v":26.4},{"g":"a11","s":1,"v":26.0},{"g":"a11","s":3,"v":25.8},{"g":"a11","s":2,"v":25.5},{"g":"a11","s":4,"v":25.3},{"g":"a11","s":3,"v":25.0},
     {"g":"n18","s":3,"v":27.6},{"g":"n18","s":5,"v":27.4},{"g":"n18","s":1,"v":27.0},{"g":"n18","s":4,"v":26.6},{"g":"n18","s":2,"v":26.3},{"g":"n18","s":5,"v":26.0},{"g":"n18","s":1,"v":25.7},{"g":"n18","s":3,"v":25.4},{"g":"n18","s":5,"v":25.2},{"g":"n18","s":1,"v":25.0},
     {"g":"a18","s":3,"v":29.9},{"g":"a18","s":5,"v":29.5},{"g":"a18","s":1,"v":29.3},{"g":"a18","s":2,"v":28.8},{"g":"a18","s":4,"v":28.5},{"g":"a18","s":3,"v":28.2},{"g":"a18","s":5,"v":28.0}]},
     "encoding":{"x":{"field":"g","type":"nominal","scale":{"domain":["n3","a3","n11","a11","n18","a18"],"paddingInner":0.35,"paddingOuter":0.1,"round":false},"axis":{"title":null,"labelExpr":"datum.value=='n3'?'non-tg 3 mon':datum.value=='a3'?'A30P-αS 3 mon':datum.value=='n11'?'non-tg 11 mon':datum.value=='a11'?'A30P-αS 11 mon':datum.value=='n18'?'non-tg 18 mon':'A30P-αS 18 mon'"}}},
     "layer":[
      {"mark":{"type":"errorbar","extent":"stdev","ticks":{"size":6},"color":"#8c8c8c","thickness":1.3}},
      {"transform":[{"aggregate":[{"op":"mean","field":"v","as":"v"}],"groupby":["g"]}],"mark":{"type":"tick","color":"#8c8c8c","size":10,"thickness":1.5}},
      {"mark":{"type":"circle","size":16,"color":"#111","opacity":1},"encoding":{"xOffset":{"field":"s","type":"ordinal","scale":{"domain":[1,2,3,4,5]}}}}]},
    {"data":{"values":[{"b":1,"k":0,"v":29.7},{"b":1,"k":4,"v":29.7},{"b":2,"k":4,"v":30.56},{"b":2,"k":5,"v":30.56},{"b":3,"k":3,"v":31.6},{"b":3,"k":5,"v":31.6},{"b":4,"k":1,"v":32.58},{"b":4,"k":5,"v":32.58}]},
     "encoding":{"x":{"field":"k","type":"quantitative","scale":{"domain":[-0.425,5.425],"nice":false,"zero":false},"axis":null}},
     "layer":[
      {"mark":{"type":"line","color":"#444","strokeWidth":1,"clip":false},"encoding":{"detail":{"field":"b"}}},
      {"mark":{"type":"rule","color":"#444","strokeWidth":1,"y2Offset":3,"clip":false},"encoding":{"y2":{"field":"v"}}},
      {"transform":[{"aggregate":[{"op":"mean","field":"k","as":"k"},{"op":"max","field":"v","as":"v"}],"groupby":["b"]}],"mark":{"type":"text","text":"*","fontSize":9,"dy":1,"baseline":"alphabetic","color":"#444","clip":false}}]}],
   "resolve":{"scale":{"x":"independent"}}},
  {"width":124,"height":83,"title":{"text":"B2M","offset":5.75},
   "encoding":{"y":{"field":"v","type":"quantitative","scale":{"domain":[26,36],"nice":false,"zero":false},"axis":{"values":[26,28,30,32,34,36],"title":"Log2 LFQ Intensity [a.u.]","titlePadding":2.5}}},
   "layer":[
    {"data":{"values":[
     {"g":"n3","s":2,"v":29.3},{"g":"n3","s":4,"v":29.2},{"g":"n3","s":3,"v":29.0},{"g":"n3","s":1,"v":28.9},{"g":"n3","s":5,"v":28.8},{"g":"n3","s":3,"v":28.7},{"g":"n3","s":2,"v":28.4},{"g":"n3","s":4,"v":28.3},
     {"g":"a3","s":4,"v":30.1},{"g":"a3","s":2,"v":29.8},{"g":"a3","s":3,"v":29.6},{"g":"a3","s":5,"v":29.4},{"g":"a3","s":1,"v":29.2},
     {"g":"n11","s":3,"v":29.9},{"g":"n11","s":2,"v":29.8},{"g":"n11","s":4,"v":29.6},{"g":"n11","s":3,"v":29.5},
     {"g":"a11","s":3,"v":30.3},{"g":"a11","s":1,"v":30.2},{"g":"a11","s":5,"v":30.1},{"g":"a11","s":2,"v":30.0},{"g":"a11","s":4,"v":29.9},{"g":"a11","s":3,"v":29.8},
     {"g":"n18","s":3,"v":30.9},{"g":"n18","s":5,"v":30.6},{"g":"n18","s":1,"v":30.4},{"g":"n18","s":4,"v":30.1},{"g":"n18","s":2,"v":30.0},{"g":"n18","s":5,"v":29.9},{"g":"n18","s":1,"v":29.7},{"g":"n18","s":3,"v":29.5},{"g":"n18","s":3,"v":29.2},
     {"g":"a18","s":3,"v":32.6},{"g":"a18","s":1,"v":32.3},{"g":"a18","s":5,"v":32.2},{"g":"a18","s":2,"v":32.1},{"g":"a18","s":4,"v":32.0},{"g":"a18","s":3,"v":31.9}]},
     "encoding":{"x":{"field":"g","type":"nominal","scale":{"domain":["n3","a3","n11","a11","n18","a18"],"paddingInner":0.35,"paddingOuter":0.1,"round":false},"axis":{"title":null,"labelExpr":"datum.value=='n3'?'non-tg 3 mon':datum.value=='a3'?'A30P-αS 3 mon':datum.value=='n11'?'non-tg 11 mon':datum.value=='a11'?'A30P-αS 11 mon':datum.value=='n18'?'non-tg 18 mon':'A30P-αS 18 mon'"}}},
     "layer":[
      {"mark":{"type":"errorbar","extent":"stdev","ticks":{"size":6},"color":"#8c8c8c","thickness":1.3}},
      {"transform":[{"aggregate":[{"op":"mean","field":"v","as":"v"}],"groupby":["g"]}],"mark":{"type":"tick","color":"#8c8c8c","size":10,"thickness":1.5}},
      {"mark":{"type":"circle","size":16,"color":"#111","opacity":1},"encoding":{"xOffset":{"field":"s","type":"ordinal","scale":{"domain":[1,2,3,4,5]}}}}]},
    {"data":{"values":[{"b":1,"k":0,"v":32.99},{"b":1,"k":4,"v":32.99},{"b":2,"k":4,"v":33.78},{"b":2,"k":5,"v":33.78},{"b":3,"k":3,"v":34.59},{"b":3,"k":5,"v":34.59},{"b":4,"k":1,"v":35.28},{"b":4,"k":5,"v":35.28}]},
     "encoding":{"x":{"field":"k","type":"quantitative","scale":{"domain":[-0.425,5.425],"nice":false,"zero":false},"axis":null}},
     "layer":[
      {"mark":{"type":"line","color":"#444","strokeWidth":1,"clip":false},"encoding":{"detail":{"field":"b"}}},
      {"mark":{"type":"rule","color":"#444","strokeWidth":1,"y2Offset":3,"clip":false},"encoding":{"y2":{"field":"v"}}},
      {"transform":[{"aggregate":[{"op":"mean","field":"k","as":"k"},{"op":"max","field":"v","as":"v"}],"groupby":["b"]}],"mark":{"type":"text","text":"*","fontSize":9,"dy":1,"baseline":"alphabetic","color":"#444","clip":false}}]}],
   "resolve":{"scale":{"x":"independent"}}},
  {"width":124,"height":83,"title":{"text":"TREM2","offset":-20.6},
   "encoding":{"y":{"field":"v","type":"quantitative","scale":{"domain":[18,30],"nice":false,"zero":false},"axis":{"values":[18,20,22,24,26,28,30],"title":"Log2 LFQ Intensity [a.u.]","titlePadding":2.5}}},
   "layer":[
    {"data":{"values":[
     {"g":"n3","s":2,"v":21.4},{"g":"n3","s":4,"v":21.3},{"g":"n3","s":3,"v":21.1},{"g":"n3","s":3,"v":20.65},
     {"g":"n11","s":2,"v":22.8},{"g":"n11","s":4,"v":22.6},{"g":"n11","s":3,"v":22.1},{"g":"n11","s":5,"v":21.8},{"g":"n11","s":2,"v":21.5},
     {"g":"a11","s":3,"v":23.5},{"g":"a11","s":1,"v":23.0},{"g":"a11","s":5,"v":22.9},{"g":"a11","s":3,"v":22.8},
     {"g":"n18","s":4,"v":23.8},{"g":"n18","s":2,"v":23.6},{"g":"n18","s":5,"v":23.4},{"g":"n18","s":1,"v":23.3},{"g":"n18","s":3,"v":23.2},{"g":"n18","s":4,"v":23.0},{"g":"n18","s":2,"v":22.8},{"g":"n18","s":3,"v":22.6},
     {"g":"a18","s":3,"v":27.3},{"g":"a18","s":1,"v":27.0},{"g":"a18","s":5,"v":26.8},{"g":"a18","s":2,"v":26.6},{"g":"a18","s":4,"v":26.0},{"g":"a18","s":3,"v":25.5}]},
     "encoding":{"x":{"field":"g","type":"nominal","scale":{"domain":["n3","a3","n11","a11","n18","a18"],"paddingInner":0.35,"paddingOuter":0.1,"round":false},"axis":{"title":null,"labelExpr":"datum.value=='n3'?'non-tg 3 mon':datum.value=='a3'?'A30P-αS 3 mon':datum.value=='n11'?'non-tg 11 mon':datum.value=='a11'?'A30P-αS 11 mon':datum.value=='n18'?'non-tg 18 mon':'A30P-αS 18 mon'"}}},
     "layer":[
      {"mark":{"type":"errorbar","extent":"stdev","ticks":{"size":6},"color":"#8c8c8c","thickness":1.3}},
      {"transform":[{"aggregate":[{"op":"mean","field":"v","as":"v"}],"groupby":["g"]}],"mark":{"type":"tick","color":"#8c8c8c","size":10,"thickness":1.5}},
      {"mark":{"type":"circle","size":16,"color":"#111","opacity":1},"encoding":{"xOffset":{"field":"s","type":"ordinal","scale":{"domain":[1,2,3,4,5]}}}}]},
    {"data":{"values":[{"b":1,"k":0,"v":27.7},{"b":1,"k":4,"v":27.7},{"b":2,"k":4,"v":28.6},{"b":2,"k":5,"v":28.6},{"b":3,"k":3,"v":29.5},{"b":3,"k":5,"v":29.5}]},
     "encoding":{"x":{"field":"k","type":"quantitative","scale":{"domain":[-0.425,5.425],"nice":false,"zero":false},"axis":null}},
     "layer":[
      {"mark":{"type":"line","color":"#444","strokeWidth":1,"clip":false},"encoding":{"detail":{"field":"b"}}},
      {"mark":{"type":"rule","color":"#444","strokeWidth":1,"y2Offset":3,"clip":false},"encoding":{"y2":{"field":"v"}}},
      {"transform":[{"aggregate":[{"op":"mean","field":"k","as":"k"},{"op":"max","field":"v","as":"v"}],"groupby":["b"]}],"mark":{"type":"text","text":"*","fontSize":9,"dy":1,"baseline":"alphabetic","color":"#444","clip":false}},
      {"data":{"values":[{"xa":-2.42,"xb":6.07,"ya":34.53,"yb":8.89}]},"mark":{"type":"rect","filled":false,"stroke":"#F7931E","strokeWidth":3.5,"clip":false},
       "encoding":{"x":{"field":"xa","type":"quantitative","scale":{"domain":[-0.425,5.425],"nice":false,"zero":false},"axis":null},"x2":{"field":"xb"},"y":{"field":"ya","type":"quantitative","scale":{"domain":[18,30],"nice":false,"zero":false},"title":"Log2 LFQ Intensity [a.u.]"},"y2":{"field":"yb"}}},
      {"data":{"values":[{"xa":1.603,"xb":0.707,"ya":8.94,"yb":6.33}]},"mark":{"type":"rule","stroke":"#F7931E","strokeWidth":6,"clip":false},
       "encoding":{"x":{"field":"xa","type":"quantitative","scale":{"domain":[-0.425,5.425],"nice":false,"zero":false},"axis":null},"x2":{"field":"xb"},"y":{"field":"ya","type":"quantitative","scale":{"domain":[18,30],"nice":false,"zero":false},"title":"Log2 LFQ Intensity [a.u.]"},"y2":{"field":"yb"}}},
      {"data":{"values":[{"xa":0.518,"ya":5.61}]},"mark":{"type":"point","shape":"triangle-down","angle":45,"filled":true,"color":"#F7931E","opacity":1,"size":320,"clip":false},
       "encoding":{"x":{"field":"xa","type":"quantitative","scale":{"domain":[-0.425,5.425],"nice":false,"zero":false},"axis":null},"y":{"field":"ya","type":"quantitative","scale":{"domain":[18,30],"nice":false,"zero":false},"title":"Log2 LFQ Intensity [a.u.]"}}}]}],
   "resolve":{"scale":{"x":"independent"}}}
  ]},
 {"title":{"text":"Stage 2 DAM in A30P-αS","anchor":"middle","fontSize":15,"offset":14,"dx":13.5},
  "columns":2,"bounds":"flush","spacing":{"row":95,"column":61},
  "concat":[
  {"width":124,"height":83,"title":{"text":"CTSL","offset":0.75},
   "encoding":{"y":{"field":"v","type":"quantitative","scale":{"domain":[25,32],"nice":false,"zero":false},"axis":{"values":[26,28,30,32],"title":"Log2 LFQ Intensity [a.u.]","titlePadding":2.5}}},
   "layer":[
    {"data":{"values":[
     {"g":"n3","s":4,"v":28.6},{"g":"n3","s":1,"v":28.4},{"g":"n3","s":5,"v":28.2},{"g":"n3","s":2,"v":28.0},{"g":"n3","s":3,"v":27.8},{"g":"n3","s":5,"v":27.6},{"g":"n3","s":1,"v":27.4},{"g":"n3","s":3,"v":27.2},{"g":"n3","s":4,"v":27.1},
     {"g":"a3","s":4,"v":28.5},{"g":"a3","s":2,"v":28.4},{"g":"a3","s":5,"v":28.3},{"g":"a3","s":3,"v":28.1},{"g":"a3","s":1,"v":28.0},{"g":"a3","s":3,"v":27.9},
     {"g":"n11","s":3,"v":28.2},{"g":"n11","s":1,"v":28.1},{"g":"n11","s":5,"v":28.0},{"g":"n11","s":2,"v":27.9},{"g":"n11","s":4,"v":27.9},
     {"g":"a11","s":1,"v":28.6},{"g":"a11","s":5,"v":28.5},{"g":"a11","s":3,"v":28.3},{"g":"a11","s":2,"v":28.2},{"g":"a11","s":4,"v":28.1},{"g":"a11","s":3,"v":27.9},
     {"g":"n18","s":3,"v":29.0},{"g":"n18","s":4,"v":28.8},{"g":"n18","s":2,"v":28.5},{"g":"n18","s":5,"v":28.2},{"g":"n18","s":1,"v":28.0},{"g":"n18","s":3,"v":27.9},{"g":"n18","s":5,"v":27.8},{"g":"n18","s":2,"v":27.7},{"g":"n18","s":4,"v":27.6},{"g":"n18","s":3,"v":27.5},
     {"g":"a18","s":3,"v":29.9},{"g":"a18","s":2,"v":29.6},{"g":"a18","s":4,"v":29.5},{"g":"a18","s":1,"v":29.3},{"g":"a18","s":5,"v":29.1},{"g":"a18","s":3,"v":28.9}]},
     "encoding":{"x":{"field":"g","type":"nominal","scale":{"domain":["n3","a3","n11","a11","n18","a18"],"paddingInner":0.35,"paddingOuter":0.1,"round":false},"axis":{"title":null,"labelExpr":"datum.value=='n3'?'non-tg 3 mon':datum.value=='a3'?'A30P-αS 3 mon':datum.value=='n11'?'non-tg 11 mon':datum.value=='a11'?'A30P-αS 11 mon':datum.value=='n18'?'non-tg 18 mon':'A30P-αS 18 mon'"}}},
     "layer":[
      {"mark":{"type":"errorbar","extent":"stdev","ticks":{"size":6},"color":"#8c8c8c","thickness":1.3}},
      {"transform":[{"aggregate":[{"op":"mean","field":"v","as":"v"}],"groupby":["g"]}],"mark":{"type":"tick","color":"#8c8c8c","size":10,"thickness":1.5}},
      {"mark":{"type":"circle","size":16,"color":"#111","opacity":1},"encoding":{"xOffset":{"field":"s","type":"ordinal","scale":{"domain":[1,2,3,4,5]}}}}]},
    {"data":{"values":[{"b":1,"k":4,"v":30.73},{"b":1,"k":5,"v":30.73},{"b":2,"k":3,"v":31.24},{"b":2,"k":5,"v":31.24},{"b":3,"k":1,"v":31.8},{"b":3,"k":5,"v":31.8}]},
     "encoding":{"x":{"field":"k","type":"quantitative","scale":{"domain":[-0.425,5.425],"nice":false,"zero":false},"axis":null}},
     "layer":[
      {"mark":{"type":"line","color":"#444","strokeWidth":1,"clip":false},"encoding":{"detail":{"field":"b"}}},
      {"mark":{"type":"rule","color":"#444","strokeWidth":1,"y2Offset":3,"clip":false},"encoding":{"y2":{"field":"v"}}},
      {"transform":[{"aggregate":[{"op":"mean","field":"k","as":"k"},{"op":"max","field":"v","as":"v"}],"groupby":["b"]}],"mark":{"type":"text","text":"*","fontSize":9,"dy":1,"baseline":"alphabetic","color":"#444","clip":false}}]}],
   "resolve":{"scale":{"x":"independent"}}},
  {"width":124,"height":83,"title":{"text":"CSF1","offset":0.75},
   "encoding":{"y":{"field":"v","type":"quantitative","scale":{"domain":[20,28],"nice":false,"zero":false},"axis":{"values":[20,22,24,26,28],"title":"Log2 LFQ Intensity [a.u.]","titlePadding":2.5}}},
   "layer":[
    {"data":{"values":[
     {"g":"n3","s":2,"v":23.4},{"g":"n3","s":4,"v":23.3},{"g":"n3","s":3,"v":23.1},{"g":"n3","s":1,"v":23.0},{"g":"n3","s":5,"v":22.9},{"g":"n3","s":3,"v":22.8},{"g":"n3","s":2,"v":22.7},{"g":"n3","s":4,"v":22.5},
     {"g":"a3","s":3,"v":24.3},{"g":"a3","s":1,"v":24.0},{"g":"a3","s":5,"v":23.8},{"g":"a3","s":2,"v":23.6},{"g":"a3","s":4,"v":23.4},{"g":"a3","s":3,"v":23.3},
     {"g":"n11","s":3,"v":24.1},{"g":"n11","s":3,"v":23.9},{"g":"n11","s":1,"v":23.1},{"g":"n11","s":5,"v":23.1},{"g":"n11","s":3,"v":22.9},
     {"g":"a11","s":2,"v":24.1},{"g":"a11","s":4,"v":24.0},{"g":"a11","s":3,"v":23.7},{"g":"a11","s":1,"v":23.5},{"g":"a11","s":5,"v":23.2},{"g":"a11","s":3,"v":23.1},
     {"g":"n18","s":3,"v":24.7},{"g":"n18","s":5,"v":24.5},{"g":"n18","s":1,"v":24.2},{"g":"n18","s":4,"v":24.0},{"g":"n18","s":2,"v":23.9},{"g":"n18","s":3,"v":23.7},{"g":"n18","s":5,"v":23.6},{"g":"n18","s":1,"v":23.5},{"g":"n18","s":4,"v":23.4},{"g":"n18","s":2,"v":23.3},
     {"g":"a18","s":5,"v":25.5},{"g":"a18","s":1,"v":25.2},{"g":"a18","s":3,"v":25.0},{"g":"a18","s":2,"v":24.8},{"g":"a18","s":4,"v":24.4},{"g":"a18","s":3,"v":24.2}]},
     "encoding":{"x":{"field":"g","type":"nominal","scale":{"domain":["n3","a3","n11","a11","n18","a18"],"paddingInner":0.35,"paddingOuter":0.1,"round":false},"axis":{"title":null,"labelExpr":"datum.value=='n3'?'non-tg 3 mon':datum.value=='a3'?'A30P-αS 3 mon':datum.value=='n11'?'non-tg 11 mon':datum.value=='a11'?'A30P-αS 11 mon':datum.value=='n18'?'non-tg 18 mon':'A30P-αS 18 mon'"}}},
     "layer":[
      {"mark":{"type":"errorbar","extent":"stdev","ticks":{"size":6},"color":"#8c8c8c","thickness":1.3}},
      {"transform":[{"aggregate":[{"op":"mean","field":"v","as":"v"}],"groupby":["g"]}],"mark":{"type":"tick","color":"#8c8c8c","size":10,"thickness":1.5}},
      {"mark":{"type":"circle","size":16,"color":"#111","opacity":1},"encoding":{"xOffset":{"field":"s","type":"ordinal","scale":{"domain":[1,2,3,4,5]}}}}]},
    {"data":{"values":[{"b":1,"k":0,"v":25.9},{"b":1,"k":4,"v":25.9},{"b":2,"k":4,"v":26.55},{"b":2,"k":5,"v":26.55},{"b":3,"k":3,"v":27.06},{"b":3,"k":5,"v":27.06},{"b":4,"k":1,"v":27.7},{"b":4,"k":5,"v":27.7}]},
     "encoding":{"x":{"field":"k","type":"quantitative","scale":{"domain":[-0.425,5.425],"nice":false,"zero":false},"axis":null}},
     "layer":[
      {"mark":{"type":"line","color":"#444","strokeWidth":1,"clip":false},"encoding":{"detail":{"field":"b"}}},
      {"mark":{"type":"rule","color":"#444","strokeWidth":1,"y2Offset":3,"clip":false},"encoding":{"y2":{"field":"v"}}},
      {"transform":[{"aggregate":[{"op":"mean","field":"k","as":"k"},{"op":"max","field":"v","as":"v"}],"groupby":["b"]}],"mark":{"type":"text","text":"*","fontSize":9,"dy":1,"baseline":"alphabetic","color":"#444","clip":false}}]}],
   "resolve":{"scale":{"x":"independent"}}},
  {"width":124,"height":83,"title":{"text":"TIMP2","offset":0.75},
   "encoding":{"y":{"field":"v","type":"quantitative","scale":{"domain":[24,30],"nice":false,"zero":false},"axis":{"values":[24,26,28,30],"title":"Log2 LFQ Intensity [a.u.]","titlePadding":2.5}}},
   "layer":[
    {"data":{"values":[
     {"g":"n3","s":5,"v":27.2},{"g":"n3","s":1,"v":27.1},{"g":"n3","s":3,"v":26.8},{"g":"n3","s":1,"v":26.6},{"g":"n3","s":5,"v":26.3},{"g":"n3","s":3,"v":26.0},{"g":"n3","s":1,"v":25.9},{"g":"n3","s":5,"v":25.8},{"g":"n3","s":3,"v":25.4},
     {"g":"a3","s":2,"v":27.1},{"g":"a3","s":5,"v":27.0},{"g":"a3","s":3,"v":26.7},{"g":"a3","s":1,"v":26.5},{"g":"a3","s":4,"v":26.3},{"g":"a3","s":2,"v":26.2},
     {"g":"n11","s":3,"v":27.0},{"g":"n11","s":2,"v":26.6},{"g":"n11","s":4,"v":26.5},{"g":"n11","s":1,"v":26.4},{"g":"n11","s":5,"v":26.4},
     {"g":"a11","s":4,"v":27.4},{"g":"a11","s":2,"v":27.2},{"g":"a11","s":5,"v":27.0},{"g":"a11","s":3,"v":26.8},{"g":"a11","s":1,"v":26.6},{"g":"a11","s":3,"v":26.4},
     {"g":"n18","s":2,"v":27.3},{"g":"n18","s":4,"v":27.2},{"g":"n18","s":5,"v":27.0},{"g":"n18","s":1,"v":26.8},{"g":"n18","s":3,"v":26.7},{"g":"n18","s":5,"v":26.5},{"g":"n18","s":1,"v":26.4},{"g":"n18","s":2,"v":26.2},{"g":"n18","s":3,"v":26.0},
     {"g":"a18","s":1,"v":27.9},{"g":"a18","s":5,"v":27.8},{"g":"a18","s":3,"v":27.6},{"g":"a18","s":2,"v":27.5},{"g":"a18","s":4,"v":27.4},{"g":"a18","s":3,"v":27.3}]},
     "encoding":{"x":{"field":"g","type":"nominal","scale":{"domain":["n3","a3","n11","a11","n18","a18"],"paddingInner":0.35,"paddingOuter":0.1,"round":false},"axis":{"title":null,"labelExpr":"datum.value=='n3'?'non-tg 3 mon':datum.value=='a3'?'A30P-αS 3 mon':datum.value=='n11'?'non-tg 11 mon':datum.value=='a11'?'A30P-αS 11 mon':datum.value=='n18'?'non-tg 18 mon':'A30P-αS 18 mon'"}}},
     "layer":[
      {"mark":{"type":"errorbar","extent":"stdev","ticks":{"size":6},"color":"#8c8c8c","thickness":1.3}},
      {"transform":[{"aggregate":[{"op":"mean","field":"v","as":"v"}],"groupby":["g"]}],"mark":{"type":"tick","color":"#8c8c8c","size":10,"thickness":1.5}},
      {"mark":{"type":"circle","size":16,"color":"#111","opacity":1},"encoding":{"xOffset":{"field":"s","type":"ordinal","scale":{"domain":[1,2,3,4,5]}}}}]},
    {"data":{"values":[{"b":1,"k":4,"v":28.7},{"b":1,"k":5,"v":28.7},{"b":2,"k":3,"v":29.2},{"b":2,"k":5,"v":29.2},{"b":3,"k":1,"v":29.7},{"b":3,"k":5,"v":29.7}]},
     "encoding":{"x":{"field":"k","type":"quantitative","scale":{"domain":[-0.425,5.425],"nice":false,"zero":false},"axis":null}},
     "layer":[
      {"mark":{"type":"line","color":"#444","strokeWidth":1,"clip":false},"encoding":{"detail":{"field":"b"}}},
      {"mark":{"type":"rule","color":"#444","strokeWidth":1,"y2Offset":3,"clip":false},"encoding":{"y2":{"field":"v"}}},
      {"transform":[{"aggregate":[{"op":"mean","field":"k","as":"k"},{"op":"max","field":"v","as":"v"}],"groupby":["b"]}],"mark":{"type":"text","text":"*","fontSize":9,"dy":1,"baseline":"alphabetic","color":"#444","clip":false}}]}],
   "resolve":{"scale":{"x":"independent"}}},
  {"width":124,"height":83,"title":{"text":"CST7","offset":0.75},
   "encoding":{"y":{"field":"v","type":"quantitative","scale":{"domain":[20,26],"nice":false,"zero":false},"axis":{"values":[20,22,24,26],"title":"Log2 LFQ Intensity [a.u.]","titlePadding":2.5}}},
   "data":{"values":[
     {"g":"a18","s":3,"v":24.8},{"g":"a18","s":3,"v":24.1},{"g":"a18","s":2,"v":23.7},{"g":"a18","s":4,"v":23.6},{"g":"a18","s":3,"v":23.5},{"g":"a18","s":2,"v":23.2},{"g":"a18","s":4,"v":23.2}]},
   "layer":[
    {"encoding":{"x":{"field":"g","type":"nominal","scale":{"domain":["n3","a3","n11","a11","n18","a18"],"paddingInner":0.35,"paddingOuter":0.1,"round":false},"axis":{"title":null,"labelExpr":"datum.value=='n3'?'non-tg 3 mon':datum.value=='a3'?'A30P-αS 3 mon':datum.value=='n11'?'non-tg 11 mon':datum.value=='a11'?'A30P-αS 11 mon':datum.value=='n18'?'non-tg 18 mon':'A30P-αS 18 mon'"}}},
     "layer":[
      {"mark":{"type":"errorbar","extent":"stdev","ticks":{"size":6},"color":"#8c8c8c","thickness":1.3}},
      {"transform":[{"aggregate":[{"op":"mean","field":"v","as":"v"}],"groupby":["g"]}],"mark":{"type":"tick","color":"#8c8c8c","size":10,"thickness":1.5}},
      {"mark":{"type":"circle","size":16,"color":"#111","opacity":1},"encoding":{"xOffset":{"field":"s","type":"ordinal","scale":{"domain":[1,2,3,4,5]}}}}]}]}
  ]}
 ]}
],
"config":{
 "font":"Liberation Sans",
 "view":{"stroke":null},
 "axis":{"grid":false,"domainColor":"#222","tickColor":"#222","labelColor":"#222","titleColor":"#333","labelFontSize":8.5,"titleFontSize":9,"titleFontWeight":"normal","tickSize":3,"labelPadding":1,"domainWidth":1.2,"tickWidth":1},
 "axisX":{"labelAngle":-45,"tickSize":4},
 "title":{"fontSize":12,"fontWeight":"bold","color":"#111"},
 "locale":{"number":{"decimal":".","thousands":",","grouping":[3],"currency":["$",""],"minus":"-"}}
}
}
